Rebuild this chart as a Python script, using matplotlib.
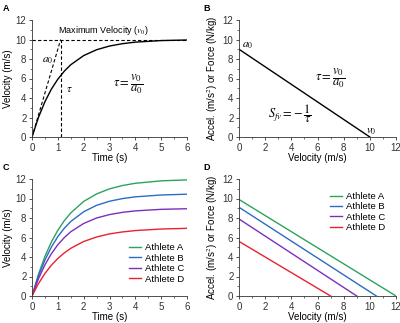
import matplotlib
matplotlib.use("Agg")
import matplotlib.pyplot as plt
from matplotlib.ticker import MultipleLocator

plt.rcParams['font.family'] = ['Liberation Sans', 'DejaVu Sans']
plt.rcParams['mathtext.fontset'] = 'stix'

# ---- data ----
time_s = [0, 0.25, 0.5, 0.75, 1, 1.25, 1.5, 2, 2.5, 3, 3.5, 4, 5, 6]
vel_model = [0, 2.01, 3.62, 4.91, 5.93, 6.75, 7.41, 8.35, 8.95, 9.33, 9.57, 9.73, 9.89, 9.95]
v0_model = 10.0
a0_model = 9.0
tau_model = 1.11

athletes = ['Athlete A', 'Athlete B', 'Athlete C', 'Athlete D']
colors = ['#2ca25f', '#2b6cc4', '#7b2fbf', '#e8222e']
vel_A = [0, 2.23, 4.06, 5.54, 6.74, 7.72, 8.52, 9.70, 10.47, 10.99, 11.33, 11.56, 11.81, 11.91]
vel_B = [0, 2.05, 3.69, 5.02, 6.09, 6.95, 7.64, 8.64, 9.30, 9.72, 9.99, 10.17, 10.36, 10.44]
vel_C = [0, 1.77, 3.20, 4.34, 5.26, 5.99, 6.59, 7.44, 8.00, 8.35, 8.58, 8.73, 8.89, 8.95]
vel_D = [0, 1.27, 2.31, 3.16, 3.85, 4.42, 4.89, 5.59, 6.05, 6.37, 6.57, 6.71, 6.87, 6.94]
athlete_v0 = [12.0, 10.5, 9.0, 7.0]
athlete_a0 = [9.9, 9.1, 7.9, 5.6]

FS = 7
W, H = 400, 323

fig = plt.figure(figsize=(4.0, 3.23), dpi=100)

def px_axes(x0, x1, ytop, ybot):
    return fig.add_axes([x0 / W, (H - ybot) / H, (x1 - x0) / W, (ybot - ytop) / H])

axA = px_axes(32, 187, 20, 137)
axB = px_axes(239, 396, 20, 137)
axC = px_axes(32, 187, 179, 296)
axD = px_axes(239, 396, 179, 296)

def style(ax, xmax, xmajor, xlabel, ylabel):
    ax.set_xlim(0, xmax)
    ax.set_ylim(0, 12)
    ax.xaxis.set_major_locator(MultipleLocator(xmajor))
    ax.xaxis.set_minor_locator(MultipleLocator(xmajor / 2))
    ax.yaxis.set_major_locator(MultipleLocator(2))
    ax.yaxis.set_minor_locator(MultipleLocator(1))
    for s in ['top', 'right']:
        ax.spines[s].set_visible(False)
    for s in ['left', 'bottom']:
        ax.spines[s].set_linewidth(0.6)
        ax.spines[s].set_color('#333333')
    ax.tick_params(which='major', direction='out', length=2.5, width=0.6, labelsize=FS, pad=1.5, colors='#333333')
    ax.tick_params(which='minor', direction='out', length=1.5, width=0.5, colors='#333333')
    ax.set_xlabel(xlabel, fontsize=FS, labelpad=0)
    ax.set_ylabel(ylabel, fontsize=FS, labelpad=2)

dash = (0, (3, 2))

# Panel A
style(axA, 6, 1, 'Time (s)', 'Velocity (m/s)')
axA.plot(time_s, vel_model, color='black', lw=1.0)
axA.plot([0, 6], [v0_model, v0_model], color='black', lw=0.8, ls=dash)
axA.plot([0, tau_model], [0, v0_model], color='black', lw=0.8, ls=dash)
axA.plot([tau_model, tau_model], [0, v0_model], color='black', lw=0.8, ls=dash)
axA.text(2.75, 10.25, r'Maximum Velocity ($v_0$)', fontsize=6.5, ha='center', va='bottom')
axA.text(0.38, 7.6, r'$a_0$', fontsize=8)
axA.text(1.3, 4.6, r'$\tau$', fontsize=8)
axA.text(3.15, 5.4, r'$\tau = \dfrac{v_0}{a_0}$', fontsize=9, va='center')

# Panel B
style(axB, 12, 2, 'Velocity (m/s)', r'Accel. (m/s$^2$) or Force (N/kg)')
axB.plot([0, v0_model], [a0_model, 0], color='black', lw=1.0)
axB.text(0.25, 9.2, r'$a_0$', fontsize=8)
axB.text(9.7, 0.35, r'$v_0$', fontsize=8)
axB.text(5.8, 6.0, r'$\tau = \dfrac{v_0}{a_0}$', fontsize=9, va='center')
axB.text(2.2, 2.4, r'$S_{fv} = -\,\dfrac{1}{\tau}$', fontsize=9, va='center')

# Panel C
style(axC, 6, 1, 'Time (s)', 'Velocity (m/s)')
for name, col, vals in zip(athletes, colors, [vel_A, vel_B, vel_C, vel_D]):
    axC.plot(time_s, vals, color=col, lw=1.0, label=name)
axC.legend(loc='upper left', bbox_to_anchor=(0.625, 0.45), fontsize=6.8, frameon=False,
           handlelength=1.3, handletextpad=0.4, labelspacing=0.15, borderaxespad=0.0,
           borderpad=0.0)

# Panel D
style(axD, 12, 2, 'Velocity (m/s)', r'Accel. (m/s$^2$) or Force (N/kg)')
for name, col, v0, a0 in zip(athletes, colors, athlete_v0, athlete_a0):
    axD.plot([0, v0], [a0, 0], color=col, lw=1.0, label=name)
axD.legend(loc='upper left', bbox_to_anchor=(0.58, 0.89), fontsize=6.8, frameon=False,
           handlelength=1.3, handletextpad=0.4, labelspacing=0.15, borderaxespad=0.0,
           borderpad=0.0)

for (px, py), lab in zip([(3, 4), (203, 4), (3, 163), (203, 163)], ['A', 'B', 'C', 'D']):
    fig.text(px / W, 1 - py / H, lab, fontsize=6.5, fontweight='bold', va='top')

fig.savefig('out.png', dpi=100)
